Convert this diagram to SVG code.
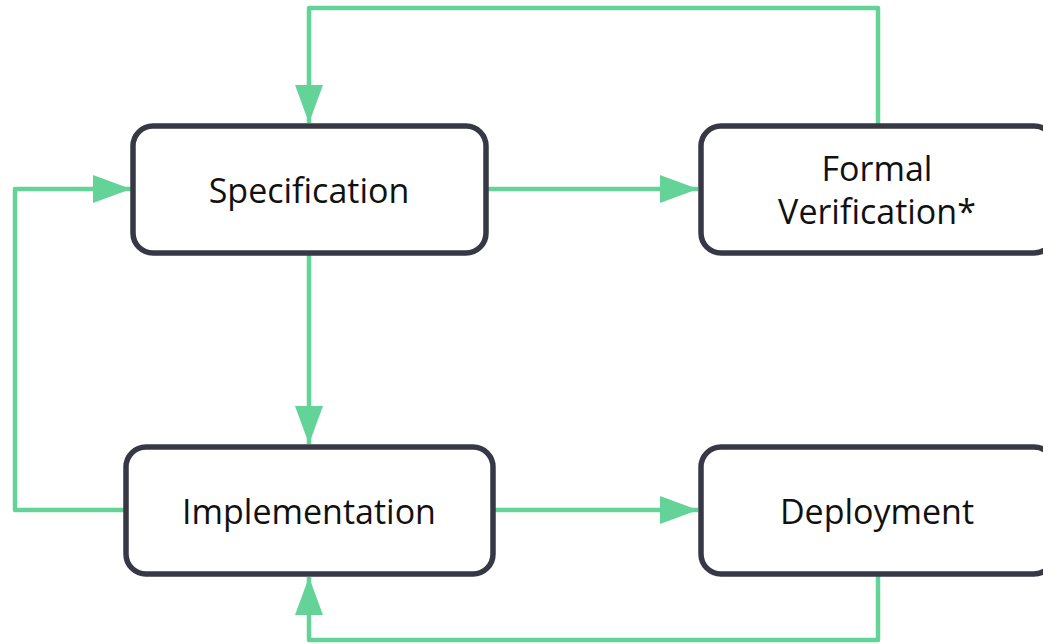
<svg xmlns="http://www.w3.org/2000/svg" width="1043" height="644" viewBox="0 0 1043 644">
  <defs>
    <marker id="arrow" markerUnits="userSpaceOnUse" markerWidth="40" markerHeight="30" refX="38" refY="14" orient="auto">
      <path d="M0,0 L38,14 L0,28 Z" fill="#63d397"/>
    </marker>
    <style>
      .box { fill: #ffffff; stroke: #363845; stroke-width: 5.5; }
      .label { font-family: "Open Sans", "Liberation Sans", sans-serif; font-size: 34px; fill: #111111; text-anchor: middle; font-variant-ligatures: none; }
      .link { fill: none; stroke: #63d397; stroke-width: 4.5; stroke-linejoin: round; }
    </style>
  </defs>

  <rect width="1043" height="644" fill="#ffffff"/>

  <g id="connectors">
    <!-- Formal Verification back to Specification (over the top) -->
    <path class="link" d="M878,125 V8 H309 V123" marker-end="url(#arrow)"/>
    <!-- Specification to Formal Verification -->
    <path class="link" d="M487,189 H698" marker-end="url(#arrow)"/>
    <!-- Specification to Implementation -->
    <path class="link" d="M309,254 V444" marker-end="url(#arrow)"/>
    <!-- Implementation back to Specification (left loop) -->
    <path class="link" d="M124,510 H15 V189 H131" marker-end="url(#arrow)"/>
    <!-- Implementation to Deployment -->
    <path class="link" d="M495,510 H698" marker-end="url(#arrow)"/>
    <!-- Deployment back to Implementation (bottom loop) -->
    <path class="link" d="M878,575 V640 H309 V577" marker-end="url(#arrow)"/>
  </g>

  <g id="specification">
    <rect class="box" x="133" y="126" width="353" height="127" rx="20"/>
    <text class="label" x="309" y="203">Specification</text>
  </g>

  <g id="formal-verification">
    <rect class="box" x="701" y="126" width="353" height="127" rx="20"/>
    <text class="label" x="877" y="181">Formal</text>
    <text class="label" x="877" y="224">Verification*</text>
  </g>

  <g id="implementation">
    <rect class="box" x="126" y="447" width="367" height="127" rx="20"/>
    <text class="label" x="309" y="524">Implementation</text>
  </g>

  <g id="deployment">
    <rect class="box" x="701" y="447" width="353" height="127" rx="20"/>
    <text class="label" x="877" y="524">Deployment</text>
  </g>
</svg>
